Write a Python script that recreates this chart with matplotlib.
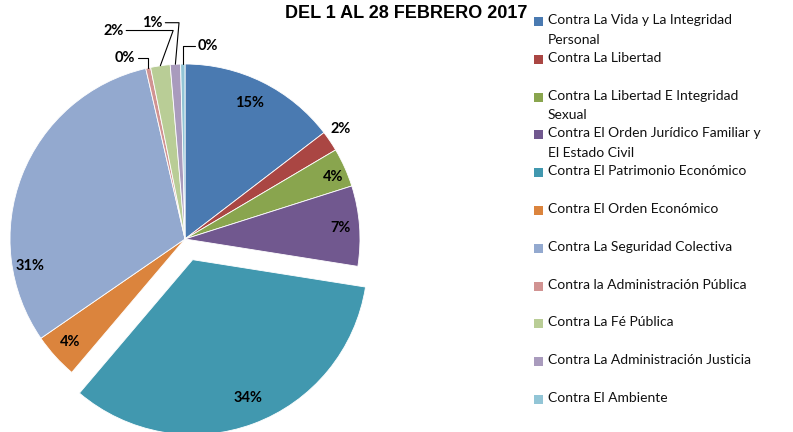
import numpy as np
import matplotlib.pyplot as plt
from matplotlib.patches import Rectangle

categories = [
    'Contra La Vida y La Integridad\nPersonal',
    'Contra La Libertad',
    'Contra La Libertad E Integridad\nSexual',
    'Contra El Orden Jurídico Familiar y\nEl Estado Civil',
    'Contra El Patrimonio Económico',
    'Contra El Orden Económico',
    'Contra La Seguridad Colectiva',
    'Contra la Administración Pública',
    'Contra La Fé Pública',
    'Contra La Administración Justicia',
    'Contra El Ambiente',
]
shares = [14.6, 1.9, 3.6, 7.4, 33.7, 4.2, 31.0, 0.45, 1.8, 0.95, 0.4]
colors = ['#4A7AB1', '#AA4643', '#89A54E', '#71588F', '#4198AF', '#DB843D',
          '#93A9CF', '#D19392', '#B9CD96', '#A99BBD', '#92C5D6']
title = 'DEL 1 AL 28 FEBRERO 2017'

# label placement: clock angle (deg from top) and radius, relative to each wedge centre
lab_ang = [25.5, 54.8, 67.3, 85.9, 158, 228, 260, 341.7, 341, 351.4, 6.8]
lab_r = [0.86, 1.09, 0.92, 0.89, 0.85, 0.88, 0.90, 1.09, 1.26, 1.25, 1.11]
leader = [False] * 7 + [True] * 4
leader_angB = [None] * 7 + [90, 70, 85, 90]

plt.rcParams['font.family'] = ['Lato', 'DejaVu Sans']

fig = plt.figure(figsize=(7.93, 4.32), dpi=100)
ax = fig.add_axes([0, 0, 1, 1])

explode = [0.126 if i == 4 else 0 for i in range(len(shares))]
wedges, _ = ax.pie(shares, colors=colors, startangle=90, counterclock=False,
                   explode=explode,
                   wedgeprops=dict(edgecolor='white', linewidth=0.6))

R = 175.0
cx, cy = 185.0, 432 - 239.0
ax.set_xlim(-cx / R, (793 - cx) / R)
ax.set_ylim(-cy / R, (432 - cy) / R)
ax.set_aspect('auto')
ax.axis('off')

for i, w in enumerate(wedges):
    pct = '%.0f%%' % shares[i]
    c0 = np.array(w.center)
    a = np.deg2rad(lab_ang[i])
    tx, ty = c0 + lab_r[i] * np.array([np.sin(a), np.cos(a)])
    if not leader[i]:
        ax.text(tx, ty, pct, ha='center', va='center', fontsize=10.5,
                fontweight='bold', color='black')
    else:
        mid = np.deg2rad((w.theta1 + w.theta2) / 2)
        ex, ey = c0 + np.array([np.cos(mid), np.sin(mid)])
        ax.annotate(pct, xy=(ex, ey), xytext=(tx, ty), ha='center', va='center',
                    fontsize=10.5, fontweight='bold',
                    arrowprops=dict(arrowstyle='-', color='black', lw=0.8,
                                    shrinkA=0, shrinkB=0,
                                    connectionstyle='angle,angleA=0,angleB=%d' % leader_angB[i]))

fig.text(406 / 793, 1 - 13 / 432, title, ha='center', va='center',
         fontsize=13, fontweight='bold', family=['Liberation Sans', 'DejaVu Sans'])

# legend drawn by hand so the swatch sits on the first text line
for i, lab in enumerate(categories):
    y = 21 + i * 37.8
    fig.patches.append(Rectangle((534 / 793, 1 - (y + 5) / 432), 9 / 793, 9 / 432,
                                 transform=fig.transFigure, facecolor=colors[i],
                                 edgecolor='none'))
    fig.text(548 / 793, 1 - (y - 7) / 432, lab, ha='left', va='top', fontsize=10,
             linespacing=1.75, color='#111111')

fig.savefig('out.png', dpi=100)
